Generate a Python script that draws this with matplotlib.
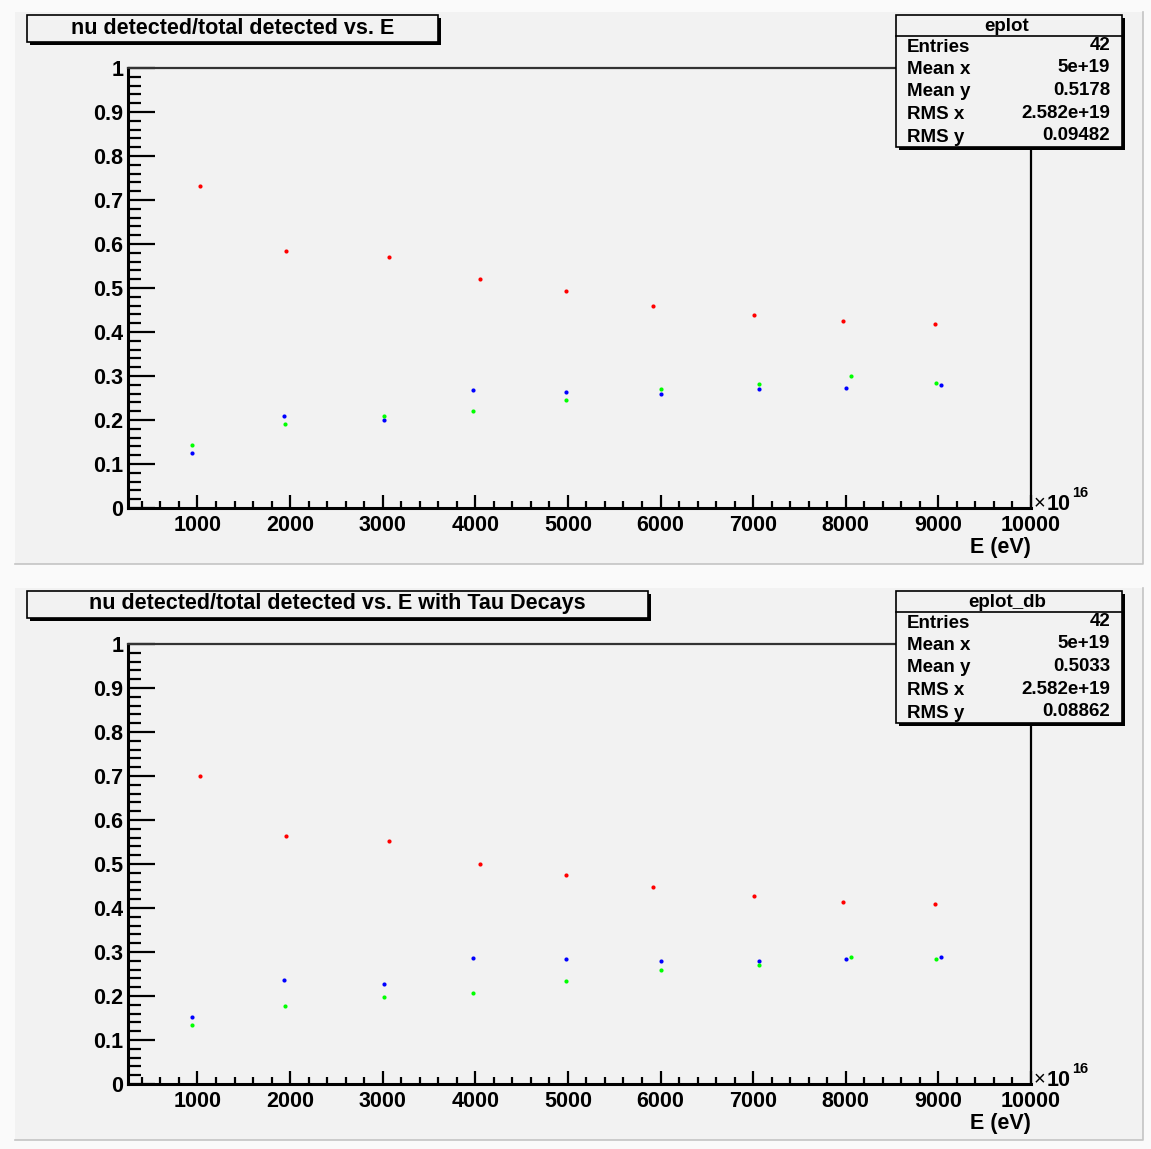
import matplotlib
matplotlib.use("Agg")
import matplotlib.pyplot as plt
from matplotlib.patches import Rectangle
from matplotlib.lines import Line2D
import matplotlib.ticker as ticker

plt.rcParams['font.family'] = ['Liberation Sans', 'DejaVu Sans']
plt.rcParams['font.weight'] = 'bold'

W, H = 1151, 1149

# energies in units of 1e16 eV (scatter is slightly jittered inside each bin)
x_red = [1030, 1959, 3065, 4047, 4979, 5922, 7009, 7966, 8963]
x_blue = [944, 1934, 3011, 3971, 4979, 6000, 7063, 8000, 9028]
x_green = [944, 1945, 3011, 3971, 4979, 6000, 7063, 8054, 8974]

# top pad: eplot
top_red = [0.732, 0.583, 0.571, 0.521, 0.494, 0.458, 0.439, 0.424, 0.419]
top_blue = [0.124, 0.210, 0.200, 0.268, 0.263, 0.260, 0.271, 0.272, 0.279]
top_green = [0.143, 0.190, 0.209, 0.220, 0.245, 0.271, 0.281, 0.301, 0.283]

# bottom pad: eplot_db
bot_red = [0.701, 0.563, 0.552, 0.501, 0.474, 0.447, 0.427, 0.414, 0.409]
bot_blue = [0.152, 0.237, 0.228, 0.287, 0.283, 0.279, 0.280, 0.283, 0.289]
bot_green = [0.133, 0.178, 0.197, 0.206, 0.233, 0.259, 0.270, 0.289, 0.283]

titles = ["nu detected/total detected vs. E",
          "nu detected/total detected vs. E with Tau Decays"]
stat_names = ["eplot", "eplot_db"]
stat_labels = ["Entries", "Mean x", "Mean y", "RMS x", "RMS y"]
stat_top = ["42", "5e+19", "0.5178", "2.582e+19", "0.09482"]
stat_bot = ["42", "5e+19", "0.5033", "2.582e+19", "0.08862"]

PAD_BG = '#f2f2f2'
LABEL_FS = 15.5
STAT_FS = 13.5


def fx(x):
    return x / W


def fy(y):
    return 1 - y / H


def add_rect(fig, x0, y0, x1, y1, **kw):
    r = Rectangle((fx(x0), fy(y1)), fx(x1) - fx(x0), fy(y0) - fy(y1),
                  transform=fig.transFigure, **kw)
    fig.add_artist(r)
    return r


def add_line(fig, xs, ys, **kw):
    fig.add_artist(Line2D([fx(v) for v in xs], [fy(v) for v in ys],
                          transform=fig.transFigure, **kw))


def shadow_box(fig, x0, y0, x1, y1):
    add_rect(fig, x0 + 3, y0 + 3, x1 + 3, y1 + 3, facecolor='black',
             edgecolor='none', zorder=5)
    add_rect(fig, x0, y0, x1, y1, facecolor=PAD_BG, edgecolor='black',
             linewidth=1.2, zorder=6)


def draw_pad(fig, off, title, title_right, name, values, reds, blues, greens):
    # pad background
    add_rect(fig, 15, 12 + off, 1143, 564 + off, facecolor=PAD_BG,
             edgecolor='none', zorder=-5)
    add_line(fig, [15, 1143, 1143], [564 + off, 564 + off, 12 + off],
             color='#c4c4c4', linewidth=1.2, zorder=-4)

    ax = fig.add_axes([fx(128), fy(508 + off), fx(1031) - fx(128), 440 / H])
    ax.set_facecolor('none')
    ax.plot(x_red, reds, 'o', ms=3.0, color='#ff0000', mec='none')
    ax.plot(x_blue, blues, 'o', ms=3.0, color='#0000ff', mec='none')
    ax.plot(x_green, greens, 'o', ms=3.0, color='#00ff00', mec='none')
    ax.set_xlim(250, 10000)
    ax.set_ylim(0, 1)

    ax.xaxis.set_major_locator(ticker.MultipleLocator(1000))
    ax.xaxis.set_minor_locator(ticker.MultipleLocator(200))
    ax.yaxis.set_major_locator(ticker.MultipleLocator(0.1))
    ax.yaxis.set_minor_locator(ticker.MultipleLocator(0.02))
    ax.yaxis.set_major_formatter(ticker.FuncFormatter(lambda v, _: '%g' % round(v, 2)))
    ax.xaxis.set_major_formatter(ticker.FuncFormatter(lambda v, _: '%d' % v))
    ax.tick_params(axis='y', which='major', direction='in', length=19.4,
                   width=1.6, labelsize=LABEL_FS, pad=3.5, right=False)
    ax.tick_params(axis='y', which='minor', direction='in', length=9.7,
                   width=1.6, right=False)
    ax.tick_params(axis='x', which='major', direction='in', length=9.4,
                   width=1.6, labelsize=LABEL_FS, pad=5.0, top=False)
    ax.tick_params(axis='x', which='minor', direction='in', length=4.7,
                   width=1.6, top=False)
    for lab in ax.get_xticklabels() + ax.get_yticklabels():
        lab.set_fontweight('bold')

    ax.spines['left'].set_linewidth(2.2)
    ax.spines['bottom'].set_linewidth(2.2)
    ax.spines['top'].set_linewidth(1.6)
    ax.spines['top'].set_color('#333333')
    ax.spines['right'].set_linewidth(1.6)

    # axis title and exponent
    fig.text(fx(1031), fy(547 + off), 'E (eV)', ha='right', va='center',
             fontsize=LABEL_FS, fontweight='bold')
    fig.text(fx(1034), fy(504 + off), '\u00d7', ha='left', va='center',
             fontsize=LABEL_FS - 1, fontweight='normal')
    fig.text(fx(1047), fy(504 + off), '10', ha='left', va='center',
             fontsize=LABEL_FS, fontweight='bold')
    fig.text(fx(1072), fy(493 + off), '16', ha='left', va='center',
             fontsize=10.5, fontweight='bold')

    # title box
    shadow_box(fig, 27, 15 + off, title_right, 42 + off)
    fig.text(fx((27 + title_right) / 2), fy(28 + off), title, ha='center',
             va='center', fontsize=LABEL_FS, fontweight='bold', zorder=7)

    # stats box
    shadow_box(fig, 896, 15 + off, 1122, 147 + off)
    add_line(fig, [896, 1122], [36 + off, 36 + off], color='black',
             linewidth=1.2, zorder=7)
    fig.text(fx(1007), fy(26.5 + off), name, ha='center', va='center',
             fontsize=STAT_FS, fontweight='bold', zorder=7)
    for i, (lab, val) in enumerate(zip(stat_labels, values)):
        yy = 47 + off + i * 22.5
        fig.text(fx(907), fy(yy), lab, ha='left', va='center',
                 fontsize=STAT_FS, fontweight='bold', zorder=7)
        fig.text(fx(1110), fy(yy - 1.5), val, ha='right', va='center',
                 fontsize=STAT_FS, fontweight='bold', zorder=7)
    return ax


def main():
    fig = plt.figure(figsize=(W / 100, H / 100), dpi=100)
    fig.patch.set_facecolor('#fafafa')
    draw_pad(fig, 0, titles[0], 438, stat_names[0], stat_top,
             top_red, top_blue, top_green)
    draw_pad(fig, 576, titles[1], 648, stat_names[1], stat_bot,
             bot_red, bot_blue, bot_green)
    fig.savefig('out.png', dpi=100, facecolor=fig.get_facecolor())
    plt.close(fig)


if __name__ == "__main__":
    main()
